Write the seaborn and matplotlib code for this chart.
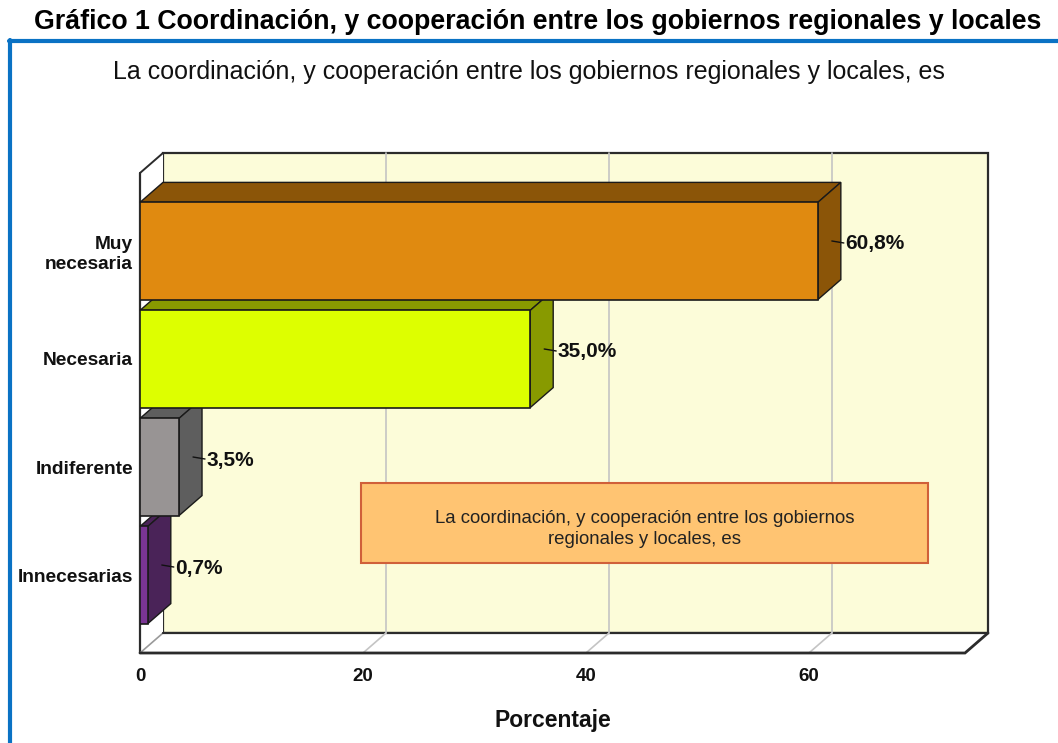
import numpy as np
import pandas as pd
import matplotlib
matplotlib.use("Agg")
import matplotlib.pyplot as plt
import seaborn as sns
from matplotlib.patches import Polygon, Rectangle
from matplotlib.lines import Line2D

# ---------------- data ----------------
categories = ["Muy\nnecesaria", "Necesaria", "Indiferente", "Innecesarias"]
values = [60.8, 35.0, 3.5, 0.7]
value_labels = ["60,8%", "35,0%", "3,5%", "0,7%"]
x_ticks = [0, 20, 40, 60]
front_colors = ["#E08A10", "#DDFF00", "#989494", "#7A3594"]
side_colors = ["#8B5508", "#889A00", "#5E5E5E", "#4A2358"]

title = "Gráfico 1 Coordinación, y cooperación entre los gobiernos regionales y locales"
subtitle = "La coordinación, y cooperación entre los gobiernos regionales y locales, es"
note = "La coordinación, y cooperación entre los gobiernos\nregionales y locales, es"
xlabel = "Porcentaje"

sns.set_theme(style="white")
plt.rcParams['font.family'] = ['Liberation Sans', 'DejaVu Sans']

W, H = 1058, 743
fig = plt.figure(figsize=(W / 100, H / 100), dpi=100)
fig.patch.set_facecolor("white")

# front plane of the 3D box, in pixels
L, R, T, B = 140, 965, 173, 653
ax = fig.add_axes([L / W, 1 - B / H, (R - L) / W, (B - T) / H])
ax.set_facecolor("none")
XMAX = 74
YTOP, YBOT = -0.722, 3.722
DXp, DYp = 23, 20
DX = DXp * XMAX / (R - L)
DY = DYp * (YBOT - YTOP) / (B - T)
PX = XMAX / (R - L)          # data units per pixel (x)
PY = (YBOT - YTOP) / (B - T)  # data units per pixel (y)

df = pd.DataFrame({"cat": categories, "val": values})
sns.barplot(data=df, x="val", y="cat", hue="cat", palette=front_colors,
            orient="h", width=0.9, edgecolor="#1a1a1a", linewidth=1.2,
            ax=ax, legend=False, zorder=5, saturation=1)
ax.set_xlim(0, XMAX)
ax.set_ylim(YBOT, YTOP)

edge = "#2b2b2b"
grid_c = "#c4c4c4"
# back wall
ax.add_patch(Polygon([(DX, YTOP - DY), (XMAX + DX, YTOP - DY), (XMAX + DX, YBOT - DY), (DX, YBOT - DY)],
                     closed=True, facecolor="#FCFCD9", edgecolor=edge, lw=1.6, clip_on=False, zorder=0.5))
# left wall
ax.add_patch(Polygon([(0, YTOP), (DX, YTOP - DY), (DX, YBOT - DY), (0, YBOT)],
                     closed=True, facecolor="white", edgecolor="none", clip_on=False, zorder=0.6))
ax.add_line(Line2D([0, DX], [YTOP, YTOP - DY], color=edge, lw=1.4, clip_on=False, zorder=0.7))
ax.add_line(Line2D([0, 0], [YTOP, YBOT], color=edge, lw=1.6, clip_on=False, zorder=0.7))
# floor
ax.add_patch(Polygon([(0, YBOT), (DX, YBOT - DY), (XMAX + DX, YBOT - DY), (XMAX, YBOT)],
                     closed=True, facecolor="white", edgecolor="none", clip_on=False, zorder=0.6))
ax.add_line(Line2D([0, DX], [YBOT, YBOT - DY], color="#9a9a9a", lw=1.2, clip_on=False, zorder=0.7))
ax.add_line(Line2D([0, XMAX, XMAX + DX], [YBOT, YBOT, YBOT - DY], color=edge, lw=2.0,
                   clip_on=False, zorder=0.9, solid_joinstyle="miter"))
ax.add_line(Line2D([DX, XMAX + DX], [YBOT - DY, YBOT - DY], color=edge, lw=1.6, clip_on=False, zorder=0.7))
# grid lines
for xt in x_ticks[1:]:
    ax.add_line(Line2D([xt + DX, xt + DX], [YTOP - DY, YBOT - DY], color=grid_c, lw=1.2, clip_on=False, zorder=0.8))
    ax.add_line(Line2D([xt, xt + DX], [YBOT, YBOT - DY], color=grid_c, lw=1.2, clip_on=False, zorder=0.8))

# 3D faces of the bars
hh = 0.45
for i, (v, sc) in enumerate(zip(values, side_colors)):
    c = i
    top = [(0, c - hh), (DX, c - hh - DY), (v + DX, c - hh - DY), (v, c - hh)]
    side = [(v, c - hh), (v + DX, c - hh - DY), (v + DX, c + hh - DY), (v, c + hh)]
    ax.add_patch(Polygon(top, closed=True, facecolor=sc, edgecolor="#1a1a1a", lw=1.0, clip_on=False, zorder=3))
    ax.add_patch(Polygon(side, closed=True, facecolor=sc, edgecolor="#1a1a1a", lw=1.0, clip_on=False, zorder=3))
    # leader line and label
    ax.add_line(Line2D([v + 14 * PX, v + 26 * PX], [c - 10 * PY, c - 8 * PY], color="#111111", lw=1.0,
                       clip_on=False, zorder=6))
    ax.text(v + 27 * PX, c - 7 * PY, value_labels[i], ha="left", va="center", fontsize=15,
            fontweight="bold", color="#111111", zorder=7, clip_on=False)

# axes styling
for s in ax.spines.values():
    s.set_visible(False)
ax.set_xticks(x_ticks)
ax.set_xticklabels([str(t) for t in x_ticks], fontsize=13.5, fontweight="bold", color="#111111")
ax.tick_params(axis="x", length=0, pad=11)
ax.tick_params(axis="y", length=0, pad=5)
for lab in ax.get_yticklabels():
    lab.set_fontsize(13.8)
    lab.set_fontweight("bold")
    lab.set_color("#111111")
    lab.set_multialignment("right")
ax.set_ylabel("")
ax.set_xlabel(xlabel, fontsize=16.5, fontweight="bold", color="#111111", labelpad=17)
ax.grid(False)

# titles
fig.text(538 / W, 1 - 22 / H, title, ha="center", va="center", fontsize=19.3, fontweight="bold", color="black")
fig.text(529 / W, 1 - 72 / H, subtitle, ha="center", va="center", fontsize=18, color="#111111")

# note box
bx0, bx1, by0, by1 = 361, 928, 483, 563
fig.patches.append(Rectangle((bx0 / W, 1 - by1 / H), (bx1 - bx0) / W, (by1 - by0) / H,
                             transform=fig.transFigure, facecolor="#FFC472", edgecolor="#D0603A",
                             lw=1.5, zorder=8))
fig.text((bx0 + bx1) / 2 / W, 1 - 529 / H, note, ha="center", va="center",
         fontsize=13.4, color="#222222", zorder=9, linespacing=1.25)

# blue frame
fig.add_artist(Line2D([10 / W, 10 / W], [1 - 40 / H, 0], transform=fig.transFigure, color="#0A72C4", lw=3))
fig.add_artist(Line2D([8.5 / W, 1], [1 - 41 / H, 1 - 41 / H], transform=fig.transFigure, color="#0A72C4", lw=3))

fig.savefig("out.png", dpi=100)
